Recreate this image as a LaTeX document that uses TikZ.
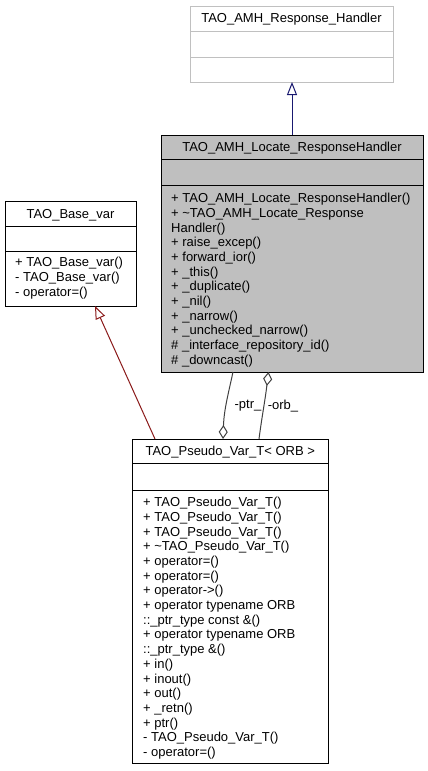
\documentclass[tikz,border=0pt]{standalone}
\usepackage{fontspec}
\setmainfont{Liberation Sans}
\usetikzlibrary{arrows.meta,calc}
\definecolor{edgeblue}{HTML}{191970}
\definecolor{edgered}{HTML}{8B1A1A}
\definecolor{edgegray}{HTML}{404040}
\definecolor{boxgray}{HTML}{BFBFBF}
\definecolor{lightborder}{HTML}{C0C0C0}
\newcommand\umlfont{\fontsize{13}{14.7}\selectfont}
\begin{document}
\begin{tikzpicture}[x=1pt,y=-1pt,
  classbox/.style={rectangle,draw=black,fill=white,line width=1pt,inner sep=0pt,outer sep=0pt},
  classtitle/.style={anchor=base,inner sep=0pt,font=\umlfont},
  members/.style={anchor=north west,inner sep=0pt,align=left,font=\umlfont},
  divider/.style={line width=1pt},
  inherit/.style={line width=1pt,-{Triangle[open,length=13pt,width=10pt]}},
  usage/.style={line width=1pt,draw=edgegray,-{Diamond[open,length=14pt,width=9pt]}},
  elabel/.style={inner sep=0pt,font=\umlfont}]
\useasboundingbox (0,0) rectangle (428,771);
\fill[white] (0,0) rectangle (428,771);

% TAO_AMH_Response_Handler
\node[classbox,draw=lightborder,minimum width=203pt,minimum height=76pt] (resp) at (291.5,44) {};
\draw[divider,lightborder] ($(resp.north west)+(0,25)$) -- ($(resp.north east)+(0,25)$);
\draw[divider,lightborder] ($(resp.north west)+(0,51)$) -- ($(resp.north east)+(0,51)$);
\node[classtitle] (respT) at ($(resp.north)+(0,17)$) {TAO\_AMH\_Response\_Handler};

% TAO_AMH_Locate_ResponseHandler
\node[classbox,fill=boxgray,minimum width=262pt,minimum height=237pt] (loc) at (292,253.5) {};
\draw[divider] ($(loc.north west)+(0,24)$) -- ($(loc.north east)+(0,24)$);
\draw[divider] ($(loc.north west)+(0,50)$) -- ($(loc.north east)+(0,50)$);
\node[classtitle] (locT) at ($(loc.north)+(0,16.5)$) {TAO\_AMH\_Locate\_ResponseHandler};
\node[members] (locM) at ($(loc.north west)+(10,57.2)$) {\strut+ TAO\_AMH\_Locate\_ResponseHandler()\\
+ \textasciitilde TAO\_AMH\_Locate\_Response\\
Handler()\\
+ raise\_excep()\\
+ forward\_ior()\\
+ \_this()\\
+ \_duplicate()\\
+ \_nil()\\
+ \_narrow()\\
+ \_unchecked\_narrow()\\
\# \_interface\_repository\_id()\\
\# \_downcast()};

% TAO_Base_var
\node[classbox,minimum width=131pt,minimum height=105pt] (base) at (70.5,253.5) {};
\draw[divider] ($(base.north west)+(0,25)$) -- ($(base.north east)+(0,25)$);
\draw[divider] ($(base.north west)+(0,50)$) -- ($(base.north east)+(0,50)$);
\node[classtitle] (baseT) at ($(base.north)+(0,17)$) {TAO\_Base\_var};
\node[members] (baseM) at ($(base.north west)+(10,55.2)$) {\strut+ TAO\_Base\_var()\\
- TAO\_Base\_var()\\
- operator=()};

% TAO_Pseudo_Var_T< ORB >
\node[classbox,minimum width=195.5pt,minimum height=324pt] (pseudo) at (230.25,601) {};
\draw[divider] ($(pseudo.north west)+(0,24)$) -- ($(pseudo.north east)+(0,24)$);
\draw[divider] ($(pseudo.north west)+(0,51)$) -- ($(pseudo.north east)+(0,51)$);
\node[classtitle] (pseudoT) at ($(pseudo.north)+(0,16.5)$) {TAO\_Pseudo\_Var\_T< ORB >};
\node[members] (pseudoM) at ($(pseudo.north west)+(10.5,57.2)$) {\strut+ TAO\_Pseudo\_Var\_T()\\
+ TAO\_Pseudo\_Var\_T()\\
+ TAO\_Pseudo\_Var\_T()\\
+ \textasciitilde TAO\_Pseudo\_Var\_T()\\
+ operator=()\\
+ operator=()\\
+ operator->()\\
+ operator typename ORB\\
::\_ptr\_type const \&()\\
+ operator typename ORB\\
::\_ptr\_type \&()\\
+ in()\\
+ inout()\\
+ out()\\
+ \_retn()\\
+ ptr()\\
- TAO\_Pseudo\_Var\_T()\\
- operator=()};

% connectors
\draw[inherit,edgeblue] (loc.north) -- (loc.north |- resp.south);
\draw[inherit,edgered] ($(pseudo.north west)+(22.5,0)$) -- ($(base.south west)+(90,0)$);
\draw[usage] ($(loc.south west)+(72,0)$) .. controls ($(loc.south west)+(67,23)$) and ($(loc.south west)+(63,38)$) .. ($(pseudo.north west)+(90.5,0)$);
\draw[usage] ($(pseudo.north west)+(126.5,0)$) .. controls ($(pseudo.north west)+(129.5,-23)$) and ($(pseudo.north west)+(132.5,-38)$) .. ($(loc.south west)+(107.5,0)$);
\node[elabel] (ptrL) at (248,406) {-ptr\_};
\node[elabel] (orbL) at (283,406) {-orb\_};
\end{tikzpicture}
\end{document}
